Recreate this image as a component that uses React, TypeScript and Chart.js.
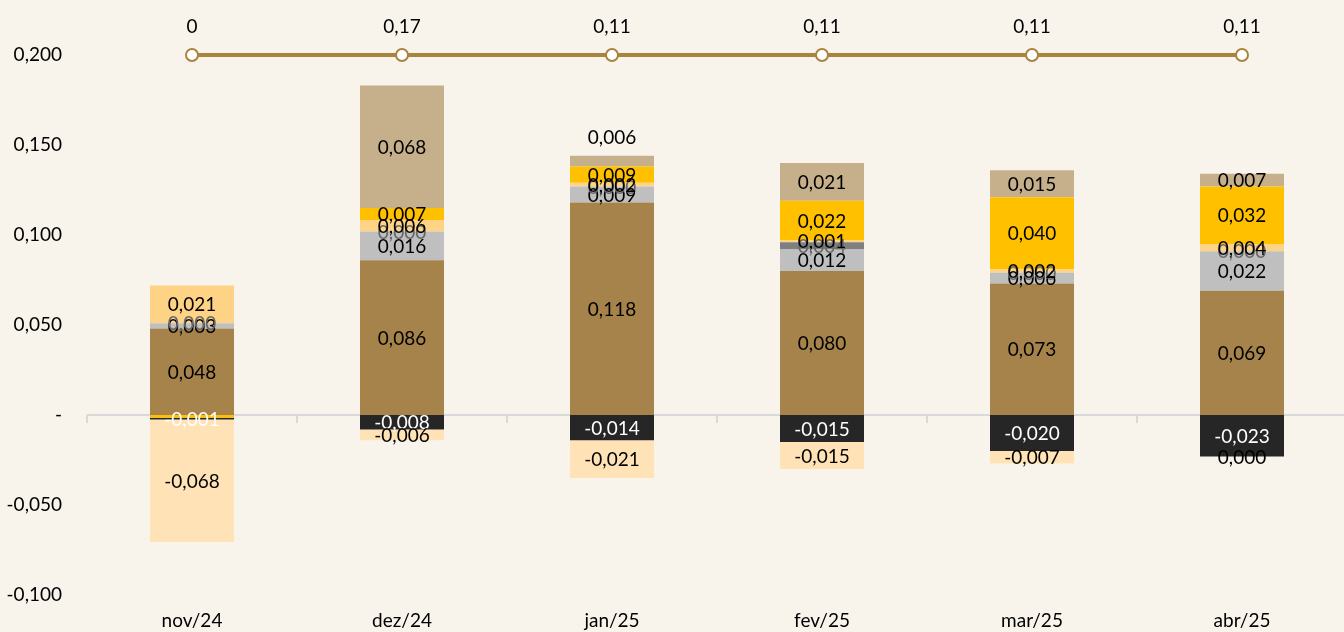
import React, { useEffect, useRef } from 'react';
import { Chart, registerables } from 'chart.js';

Chart.register(...registerables);

const categories = ['nov/24', 'dez/24', 'jan/25', 'fev/25', 'mar/25', 'abr/25'];

const brownValues = [0.048, 0.086, 0.118, 0.080, 0.073, 0.069];
const grayValues = [0.003, 0.016, 0.009, 0.012, 0.006, 0.022];
const darkGrayValues = [0, 0, 0, 0.004, 0, 0];
const lightOrangeValues = [0.021, 0.006, 0.002, 0.001, 0.002, 0.004];
const yellowValues = [-0.0015, 0.007, 0.009, 0.022, 0.040, 0.032];
const tanValues = [null, 0.068, 0.006, 0.021, 0.015, 0.007];
const blackValues = [-0.001, -0.008, -0.014, -0.015, -0.020, -0.023];
const peachValues = [-0.068, -0.006, -0.021, -0.015, -0.007, -0.00001];

// Unlabelled points: [series index, category index]
const unlabeled = [[4, 0]];

const lineLabels = [0, 0.17, 0.11, 0.11, 0.11, 0.11];
const linePosition = [0.2, 0.2, 0.2, 0.2, 0.2, 0.2];

const yTicks = [-0.1, -0.05, 0, 0.05, 0.1, 0.15, 0.2];

const FONT = 'Lato';
const FS = 19;
const BG = '#F8F4EC';

const fmt3 = (v: number) => {
  if (Math.abs(v) < 0.0005) return '0,000';
  return v.toFixed(3).replace('.', ',');
};
const fmtLine = (v: number) => String(v).replace('.', ',');

const bgPlugin = {
  id: 'bg',
  beforeDraw(chart: any) {
    const ctx = chart.ctx;
    ctx.save();
    ctx.fillStyle = BG;
    ctx.fillRect(0, 0, chart.width, chart.height);
    ctx.restore();
  },
};

const zeroLinePlugin = {
  id: 'zeroLine',
  beforeDatasetsDraw(chart: any) {
    const ctx = chart.ctx;
    const y = chart.scales.y.getPixelForValue(0);
    const xs = chart.scales.x;
    const { left, right } = chart.chartArea;
    ctx.save();
    ctx.strokeStyle = '#D9D9D9';
    ctx.lineWidth = 2;
    ctx.beginPath();
    ctx.moveTo(left, y);
    ctx.lineTo(right, y);
    const step = categories.length > 1 ? xs.getPixelForValue(1) - xs.getPixelForValue(0) : right - left;
    for (let i = 0; i <= categories.length; i++) {
      const bx = xs.getPixelForValue(0) - step / 2 + i * step;
      ctx.moveTo(bx, y);
      ctx.lineTo(bx, y + 8);
    }
    ctx.stroke();
    ctx.restore();
  },
};

const labelPlugin = {
  id: 'valueLabels',
  afterDatasetsDraw(chart: any) {
    const ctx = chart.ctx;
    ctx.save();
    ctx.font = `${FS}px ${FONT}`;
    ctx.textAlign = 'center';
    ctx.textBaseline = 'middle';
    const datasets = chart.data.datasets;
    datasets.forEach((ds: any, di: number) => {
      const meta = chart.getDatasetMeta(di);
      if (ds.type === 'line') {
        meta.data.forEach((el: any, i: number) => {
          ctx.fillStyle = '#000000';
          ctx.fillText(fmtLine(lineLabels[i]), el.x, el.y - 28);
        });
        return;
      }
      meta.data.forEach((el: any, i: number) => {
        const v = ds.data[i];
        if (v === null || v === undefined) return;
        if (unlabeled.some(([s, c]) => s === di && c === i)) return;
        ctx.fillStyle = ds.labelColor || '#000000';
        let cy = (el.y + el.base) / 2 + 1;
        // small top-most positive segment: label sits above the bar
        if (v > 0) {
          const isTop = !datasets.some((o: any, oi: number) => oi > di && o.type !== 'line' && o.data[i] > 0);
          if (isTop && Math.abs(el.base - el.y) < 12) cy = el.y - 18;
        }
        ctx.fillText(fmt3(v), el.x, cy);
      });
    });
    ctx.restore();
  },
};

export default function App() {
  const canvasRef = useRef<HTMLCanvasElement | null>(null);

  useEffect(() => {
    let chart: Chart | null = null;
    let cancelled = false;
    const make = () => {
      if (cancelled || !canvasRef.current) return;
      const bar = (label: string, data: any[], color: string, labelColor = '#000000') => ({
        type: 'bar' as const,
        label,
        data,
        backgroundColor: color,
        borderWidth: 0,
        stack: 'bars',
        order: 1,
        labelColor,
        barPercentage: 0.4,
        categoryPercentage: 1,
      });
      chart = new Chart(canvasRef.current, {
        type: 'bar',
        data: {
          labels: categories,
          datasets: [
            bar('Brown', brownValues, '#A5834A'),
            bar('Gray', grayValues, '#BFBFBF'),
            bar('DarkGray', darkGrayValues, '#7F7F7F', '#666666'),
            bar('LightOrange', lightOrangeValues, '#FFD386'),
            bar('Yellow', yellowValues, '#FFC000'),
            bar('Tan', tanValues, '#C6B08B'),
            bar('Black', blackValues, '#262626', '#FFFFFF'),
            bar('Peach', peachValues, '#FFE3B6'),
            {
              type: 'line' as const,
              label: 'Line',
              data: linePosition,
              borderColor: '#A8843F',
              borderWidth: 4,
              pointRadius: 6,
              pointBorderWidth: 2,
              pointBackgroundColor: '#FFFFFF',
              pointBorderColor: '#A8843F',
              stack: 'line',
              order: 0,
              clip: false,
            } as any,
          ] as any,
        },
        options: {
          animation: false,
          responsive: true,
          maintainAspectRatio: false,
          layout: { autoPadding: false, padding: { top: 55, left: 0, right: 0, bottom: 0 } },
          plugins: {
            legend: { display: false },
            tooltip: { enabled: false },
          },
          scales: {
            x: {
              stacked: true,
              grid: { display: false, drawTicks: false },
              border: { display: false },
              ticks: { color: '#000000', font: { family: FONT, size: FS }, padding: 14 },
              afterFit: (s: any) => { s.height = 37; },
            },
            y: {
              stacked: true,
              min: -0.1,
              max: 0.2,
              grid: { display: false, drawTicks: false },
              border: { display: false },
              afterBuildTicks: (s: any) => { s.ticks = yTicks.map((v) => ({ value: v })); },
              ticks: {
                color: '#000000',
                font: { family: FONT, size: FS },
                padding: 25,
                callback: (v: any) => (Math.abs(Number(v)) < 1e-9 ? '-' : Number(v).toFixed(3).replace('.', ',')),
              },
              afterFit: (s: any) => { s.width = 87; },
            },
          },
        } as any,
        plugins: [bgPlugin, zeroLinePlugin, labelPlugin],
      });
    };
    const fontsApi = (document as any).fonts;
    if (fontsApi && fontsApi.load) {
      fontsApi.load(`${FS}px ${FONT}`).then(make, make);
    } else {
      make();
    }
    return () => {
      cancelled = true;
      if (chart) chart.destroy();
    };
  }, []);

  return (
    <div style={{ position: 'fixed', left: 0, top: 0, width: 1344, height: 632, background: BG, overflow: 'hidden' }}>
      <div style={{ position: 'absolute', left: 0, top: 0, width: 1347, height: 632 }}>
        <canvas ref={canvasRef} />
      </div>
    </div>
  );
}
